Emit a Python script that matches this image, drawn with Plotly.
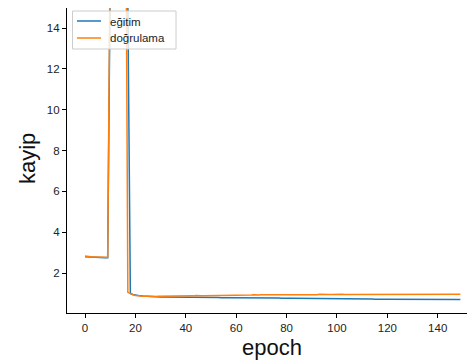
import plotly.graph_objects as go

epochs = list(range(150))

egitim = [
    2.80, 2.79, 2.78, 2.78, 2.77, 2.77, 2.76, 2.76, 2.75, 2.75,
    16.5, 21.0, 22.3, 20.8, 19.6, 20.4, 24.1, 15.2,
    1.00, 0.95, 0.92, 0.90, 0.88, 0.87, 0.86, 0.85, 0.85, 0.84, 0.84, 0.84,
    0.83, 0.83, 0.83, 0.83, 0.82, 0.82, 0.82, 0.82, 0.82, 0.81,
    0.81, 0.81, 0.81, 0.81, 0.81, 0.80, 0.81, 0.80, 0.80, 0.80,
    0.80, 0.80, 0.80, 0.80, 0.79, 0.80, 0.79, 0.79, 0.79, 0.79,
    0.80, 0.79, 0.79, 0.78, 0.79, 0.78, 0.78, 0.78, 0.78, 0.78,
    0.78, 0.77, 0.78, 0.77, 0.77, 0.77, 0.77, 0.77, 0.76, 0.77,
    0.77, 0.76, 0.76, 0.76, 0.76, 0.76, 0.76, 0.76, 0.75, 0.76,
    0.76, 0.75, 0.75, 0.75, 0.75, 0.75, 0.75, 0.74, 0.75, 0.74,
    0.74, 0.74, 0.74, 0.74, 0.74, 0.74, 0.73, 0.74, 0.73, 0.73,
    0.73, 0.73, 0.73, 0.73, 0.73, 0.72, 0.73, 0.72, 0.72, 0.72,
    0.72, 0.72, 0.72, 0.72, 0.72, 0.71, 0.72, 0.71, 0.71, 0.71,
    0.71, 0.71, 0.71, 0.71, 0.71, 0.71, 0.70, 0.71, 0.71, 0.70,
    0.71, 0.70, 0.70, 0.70, 0.71, 0.70, 0.70, 0.70, 0.70, 0.70,
]

dogrulama = [
    2.83, 2.81, 2.80, 2.79, 2.79, 2.78, 2.78, 2.77, 2.77, 2.77,
    18.2, 23.4, 24.0, 22.1, 21.5, 22.8, 26.0,
    1.05,
    0.97, 0.93, 0.90, 0.88, 0.87, 0.86, 0.86, 0.85, 0.85, 0.85, 0.85, 0.86,
    0.86, 0.86, 0.86, 0.86, 0.87, 0.86, 0.87, 0.87, 0.87, 0.87,
    0.88, 0.87, 0.88, 0.88, 0.90, 0.88, 0.89, 0.89, 0.89, 0.90,
    0.89, 0.90, 0.90, 0.91, 0.90, 0.90, 0.91, 0.90, 0.91, 0.91,
    0.92, 0.91, 0.91, 0.92, 0.91, 0.92, 0.92, 0.93, 0.92, 0.92,
    0.94, 0.92, 0.93, 0.93, 0.93, 0.92, 0.93, 0.93, 0.94, 0.93,
    0.93, 0.94, 0.93, 0.94, 0.94, 0.93, 0.94, 0.94, 0.95, 0.94,
    0.94, 0.95, 0.94, 0.96, 0.95, 0.94, 0.95, 0.95, 0.95, 0.96,
    0.95, 0.95, 0.96, 0.95, 0.95, 0.96, 0.95, 0.95, 0.96, 0.95,
    0.95, 0.96, 0.95, 0.96, 0.96, 0.95, 0.96, 0.96, 0.95, 0.97,
    0.96, 0.95, 0.96, 0.96, 0.96, 0.95, 0.96, 0.96, 0.97, 0.96,
    0.96, 0.96, 0.97, 0.96, 0.96, 0.96, 0.96, 0.97, 0.96, 0.96,
    0.97, 0.96, 0.96, 0.96, 0.97, 0.96, 0.96, 0.97, 0.97, 0.96,
]

series_names = ["eğitim", "doğrulama"]
series_colors = ["#1f77b4", "#ff7f0e"]
x_ticks = [0, 20, 40, 60, 80, 100, 120, 140]
y_ticks = [2, 4, 6, 8, 10, 12, 14]

FONT = "Liberation Sans, Arial, sans-serif"

# figure-pixel geometry (page body has an 8px margin, so the figure is
# sized to fit the 475x363 window without overflow)
W, H = 467, 355
ML, MR, MT, MB = 59, 0, 0, 50
PW = W - ML - MR
PH = H - MT - MB


def px(fx):
    return (fx - ML) / PW


def py(fy):
    return (MT + PH - fy) / PH


fig = go.Figure()
for name, vals, col in zip(series_names, [egitim, dogrulama], series_colors):
    fig.add_trace(go.Scatter(x=epochs, y=vals, mode="lines", name=name,
                             line=dict(color=col, width=1.5), showlegend=False))

shapes = [
    dict(type="rect", xref="paper", yref="paper",
         x0=px(64.5), x1=px(168), y0=py(41), y1=py(3),
         line=dict(color="#cccccc", width=1), fillcolor="rgba(255,255,255,0.8)",
         layer="above"),
]
annotations = []
for i, (name, col) in enumerate(zip(series_names, series_colors)):
    fy = 13 + 17 * i
    shapes.append(dict(type="line", xref="paper", yref="paper",
                       x0=px(69), x1=px(93), y0=py(fy), y1=py(fy),
                       line=dict(color=col, width=1.5), layer="above"))
    annotations.append(dict(text=name, xref="paper", yref="paper", x=px(100), y=py(fy + 0.5),
                            xanchor="left", yanchor="middle", showarrow=False,
                            font=dict(size=11.5, family=FONT, color="#222222")))

annotations.append(dict(text="epoch", xref="paper", yref="paper", x=px(264), y=py(339),
                        xanchor="center", yanchor="middle", showarrow=False,
                        font=dict(size=22, family=FONT, color="#111111")))
annotations.append(dict(text="kayip", xref="paper", yref="paper", x=px(20), y=py(151),
                        xanchor="center", yanchor="middle", showarrow=False, textangle=-90,
                        font=dict(size=22, family=FONT, color="#111111")))

fig.update_layout(
    width=W, height=H,
    margin=dict(l=ML, r=MR, t=MT, b=MB, autoexpand=False),
    paper_bgcolor="white", plot_bgcolor="white",
    font=dict(family=FONT, color="#222222"),
    showlegend=False,
    shapes=shapes,
    annotations=annotations,
    xaxis=dict(range=[-7.15, 154.8], tickvals=x_ticks, showgrid=False, zeroline=False,
               showline=True, linecolor="black", linewidth=1.2, mirror=True,
               ticks="outside", ticklen=4, tickwidth=1, tickcolor="black",
               tickfont=dict(size=11.5, family=FONT, color="#222222"), automargin=False),
    yaxis=dict(range=[0.041, 14.98], tickvals=y_ticks, showgrid=False, zeroline=False,
               showline=True, linecolor="black", linewidth=1.2, mirror=False,
               ticks="outside", ticklen=4, tickwidth=1, tickcolor="black",
               tickfont=dict(size=11.5, family=FONT, color="#222222"), automargin=False),
)

fig.write_html("out.html")
